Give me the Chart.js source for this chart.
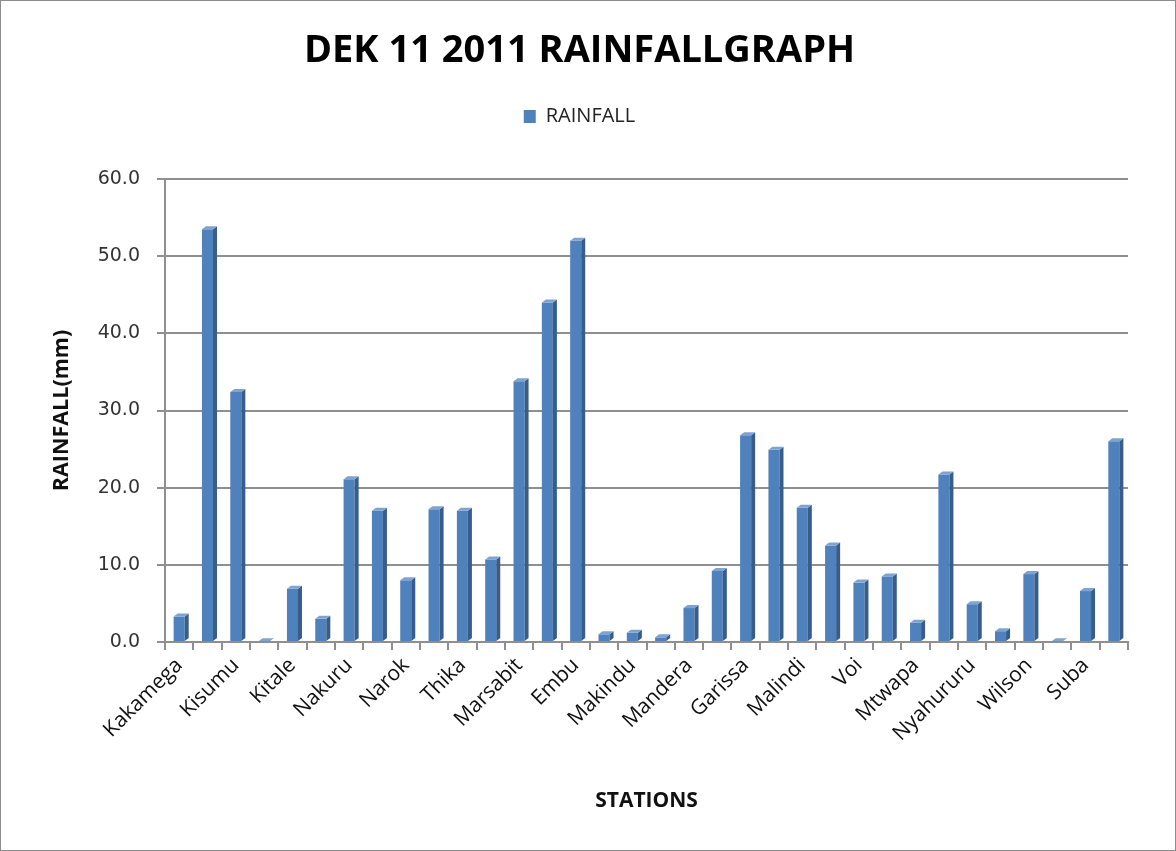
<!DOCTYPE html>
<html>
<head>
<meta charset="utf-8">
<script src="https://cdn.jsdelivr.net/npm/chart.js@4.4.1/dist/chart.umd.min.js"></script>
<style>
  html, body { margin: 0; padding: 0; background: #fff; }
  #wrap { width: 1174px; height: 849px; border: 1px solid #8c8c8c; position: relative; }
  canvas { display: block; }
</style>
</head>
<body>
<div id="wrap"><canvas id="c" width="1174" height="849"></canvas></div>
<script>
const stations = [
  "Kakamega", "Kisii", "Kisumu", "Eldoret", "Kitale", "Kericho", "Nakuru", "Nyeri",
  "Narok", "Meru", "Thika", "Dagoretti", "Marsabit", "Moyale", "Embu", "Machakos",
  "Makindu", "Lodwar", "Mandera", "Wajir", "Garissa", "Lamu", "Malindi", "Mombasa",
  "Voi", "Msabaha", "Mtwapa", "Kabete", "Nyahururu", "JKIA", "Wilson", "Laikipia",
  "Suba", "Migori"
];
const rainfall = [
  3.3, 53.5, 32.4, 0.1, 6.9, 3.0, 21.1, 17.0,
  8.0, 17.2, 17.0, 10.7, 33.8, 44.0, 52.0, 1.0,
  1.2, 0.6, 4.4, 9.2, 26.8, 24.9, 17.4, 12.5,
  7.7, 8.5, 2.5, 21.7, 4.9, 1.4, 8.8, 0.1,
  6.6, 26.0
];
const seriesName = "RAINFALL";
const chartTitle = "DEK 11 2011 RAINFALLGRAPH";
const xTitle = "STATIONS";
const yTitle = "RAINFALL(mm)";
const yMin = 0, yMax = 60, yStep = 10;

const FRONT = "#4F81BD", SIDE = "#385D8A", TOP = "#7EA3D3";
const GRID = "#8f8f8f";

const bar3d = {
  id: "bar3d",
  afterDatasetsDraw(chart) {
    const ctx = chart.ctx;
    const meta = chart.getDatasetMeta(0);
    const d = 4, dy = 3;
    ctx.save();
    meta.data.forEach(el => {
      const {x, y, base, width} = el.getProps(["x", "y", "base", "width"], true);
      const l = x - width / 2, r = x + width / 2;
      ctx.fillStyle = SIDE;
      ctx.beginPath();
      ctx.moveTo(r, y); ctx.lineTo(r + d, y - dy); ctx.lineTo(r + d, base - dy); ctx.lineTo(r, base);
      ctx.closePath(); ctx.fill();
      ctx.fillStyle = TOP;
      ctx.beginPath();
      ctx.moveTo(l, y); ctx.lineTo(r, y); ctx.lineTo(r + d, y - dy); ctx.lineTo(l + d, y - dy);
      ctx.closePath(); ctx.fill();
    });
    ctx.restore();
  }
};

const legendSpacer = {
  id: "legendSpacer",
  beforeLayout(chart) {
    const lg = chart.legend;
    if (lg && !lg._spaced) {
      const orig = lg.fit;
      lg.fit = function () { orig.call(this); this.height += 42.5; };
      lg._spaced = true;
    }
  }
};

new Chart(document.getElementById("c"), {
  type: "bar",
  data: {
    labels: stations,
    datasets: [{
      label: seriesName,
      data: rainfall,
      backgroundColor: FRONT,
      borderWidth: 0,
      barPercentage: 0.39,
      categoryPercentage: 1.0
    }]
  },
  options: {
    responsive: false,
    animation: false,
    layout: { padding: { left: 30, right: 47, top: 0, bottom: 10 } },
    plugins: {
      tooltip: { enabled: false },
      title: {
        display: true,
        text: chartTitle,
        color: "#000",
        font: { family: "'Open Sans'", size: 38, weight: "bold", lineHeight: 1.2 },
        padding: { top: 27, bottom: 22.9 }
      },
      legend: {
        display: true,
        position: "top",
        labels: {
          color: "#222",
          font: { family: "'Open Sans'", size: 20 },
          boxWidth: 12,
          boxHeight: 13,
          padding: 10
        }
      }
    },
    scales: {
      x: {
        offset: true,
        grid: { display: true, drawOnChartArea: false, offset: true, tickLength: 8, color: GRID, lineWidth: 2 },
        border: { display: true, color: GRID, width: 2 },
        ticks: {
          autoSkip: false,
          minRotation: 45,
          maxRotation: 45,
          padding: 3,
          color: "#111",
          font: { family: "'Open Sans'", size: 21 },
          callback: function (v, i) { return i % 2 === 0 ? this.getLabelForValue(v) : ""; }
        },
        title: {
          display: true,
          text: xTitle,
          color: "#111",
          font: { family: "'Open Sans'", size: 21, weight: "bold", lineHeight: 1.2 },
          padding: { top: 0, bottom: 26.5 }
        },
        afterFit(scale) { scale.height = 198; }
      },
      y: {
        min: yMin,
        max: yMax,
        ticks: {
          stepSize: yStep,
          padding: 17,
          color: "#333",
          font: { family: "'DejaVu Sans'", size: 19 },
          callback: v => Number(v).toFixed(1)
        },
        grid: { color: GRID, lineWidth: 2, tickLength: 8 },
        border: { display: true, color: GRID, width: 2 },
        title: {
          display: true,
          text: yTitle,
          color: "#111",
          font: { family: "'Open Sans'", size: 21.5, weight: "bold", lineHeight: 1.2 },
          padding: { top: 18, bottom: 0 }
        },
        afterFit(scale) { scale.width = 134; }
      }
    }
  },
  plugins: [legendSpacer, bar3d]
});
</script>
</body>
</html>
